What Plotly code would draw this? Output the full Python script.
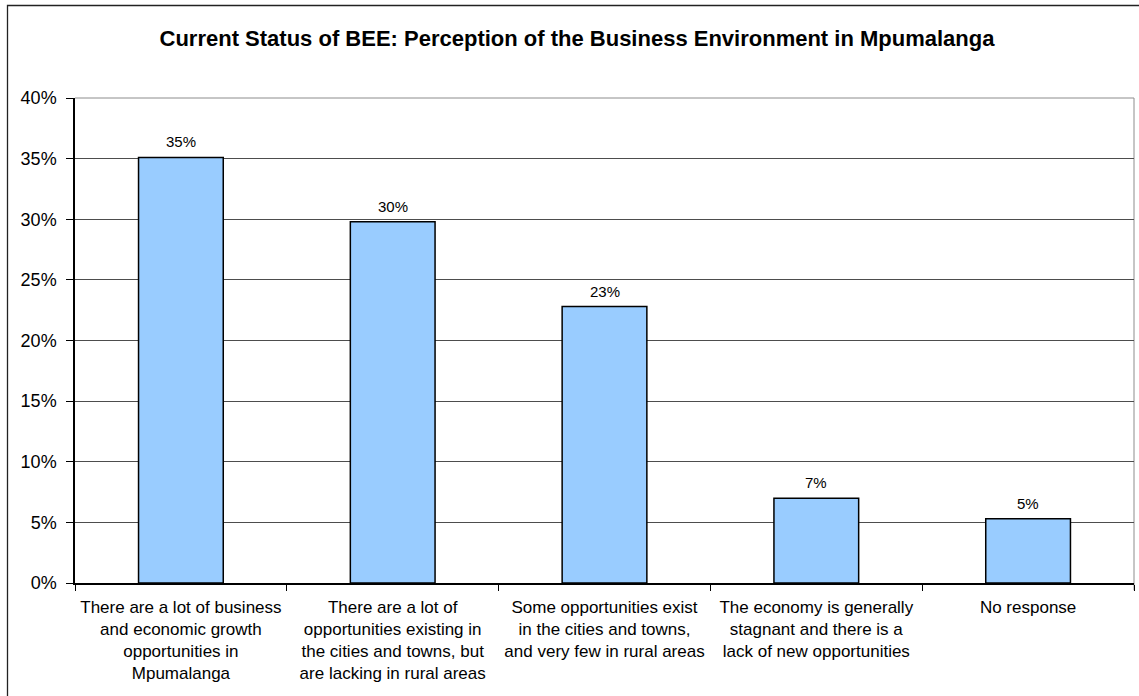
import plotly.graph_objects as go

# Survey responses on the business environment
categories = [
    "There are a lot of business<br>and economic growth<br>opportunities in<br>Mpumalanga",
    "There are a lot of<br>opportunities existing in<br>the cities and towns, but<br>are lacking in rural areas",
    "Some opportunities exist<br>in the cities and towns,<br>and very few in rural areas",
    "The economy is generally<br>stagnant and there is a<br>lack of new opportunities",
    "No response",
]
shares = [0.351, 0.298, 0.228, 0.070, 0.053]
y_ticks = [0, 0.05, 0.10, 0.15, 0.20, 0.25, 0.30, 0.35, 0.40]
y_tick_text = ["0%", "5%", "10%", "15%", "20%", "25%", "30%", "35%", "40%"]

W, H = 1139, 696
ML, MR, MT, MB = 75, 5, 98, 113
PW, PH = W - ML - MR, H - MT - MB
FONT = "Liberation Sans, Arial, sans-serif"

fig = go.Figure()
fig.add_trace(go.Bar(
    x=categories,
    y=shares,
    marker=dict(color="#99CCFF", line=dict(color="#000000", width=1.5)),
    hoverinfo="skip",
))

# value labels above each bar
for cat, val in zip(categories, shares):
    fig.add_annotation(
        x=cat, y=val, xref="x", yref="y",
        text=f"{val:.0%}", showarrow=False,
        yanchor="bottom", yshift=5,
        font=dict(family=FONT, size=15, color="#000000"),
    )

def px_to_paper_x(px):
    return (px - ML) / PW

def px_to_paper_y(py):
    return (H - MB - py) / PH

# plot-area frame (top and right edges) and the outer chart border
fig.add_shape(type="line", xref="paper", yref="paper", x0=0, x1=1, y0=1, y1=1,
              line=dict(color="#8c8c8c", width=1), layer="below")
fig.add_shape(type="line", xref="paper", yref="paper", x0=1, x1=1, y0=-0.015, y1=1,
              line=dict(color="#8c8c8c", width=1), layer="below")
fig.add_shape(type="rect", xref="paper", yref="paper",
              x0=px_to_paper_x(7.5), x1=px_to_paper_x(W + 10),
              y0=px_to_paper_y(H + 10), y1=px_to_paper_y(5.5),
              line=dict(color="#222222", width=1.3), layer="below")

fig.update_layout(
    width=W, height=H,
    margin=dict(l=ML, r=MR, t=MT, b=MB, autoexpand=False),
    paper_bgcolor="white", plot_bgcolor="white",
    bargap=0.6,
    showlegend=False,
    title=dict(
        text="<b>Current Status of BEE: Perception of the Business Environment in Mpumalanga</b>",
        x=577 / W, xref="container", xanchor="center",
        y=1 - 38 / H, yref="container", yanchor="middle",
        font=dict(family=FONT, size=22, color="#000000"),
    ),
    font=dict(family=FONT, color="#000000"),
)

fig.update_xaxes(
    type="category",
    tickson="boundaries",
    ticks="outside", ticklen=6, tickcolor="#000000", tickwidth=1,
    ticklabelstandoff=8,
    showline=True, linecolor="#000000", linewidth=1.5,
    showgrid=False,
    tickfont=dict(family=FONT, size=17, color="#000000"),
    tickangle=0,
)
fig.update_yaxes(
    range=[0, 0.4],
    tickvals=y_ticks, ticktext=y_tick_text,
    ticks="outside", ticklen=7, tickcolor="#000000", tickwidth=1,
    ticklabelstandoff=6,
    showline=True, linecolor="#000000", linewidth=1.5,
    showgrid=True, gridcolor="#4d4d4d", gridwidth=1,
    zeroline=False,
    tickfont=dict(family=FONT, size=18, color="#000000"),
)

fig.write_html("out.html")
